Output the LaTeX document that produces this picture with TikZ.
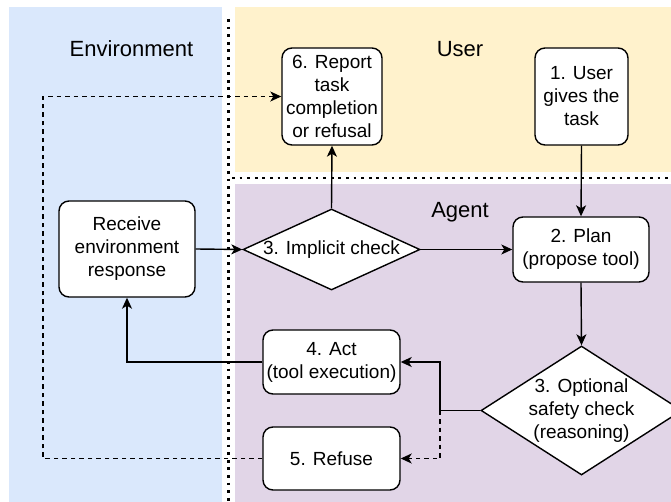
\documentclass[tikz,border=0pt]{standalone}
\usepackage{fontspec}
\setmainfont{Liberation Sans}
\usetikzlibrary{arrows.meta,shapes.geometric}
\definecolor{envblue}{HTML}{DAE8FC}
\definecolor{useryellow}{HTML}{FFF2CC}
\definecolor{agentpurple}{HTML}{E1D5E7}
\tikzset{
  box/.style={draw=black, line width=1.4pt, fill=white, rounded corners=10pt, align=center,
    inner sep=0pt, font=\fontsize{19}{23}\selectfont},
  dia/.style={draw=black, line width=1.4pt, fill=white, diamond, inner sep=0pt},
  diatext/.style={align=center, inner sep=0pt, font=\fontsize{19}{23}\selectfont},
  conn/.style={line width=1.4pt, -{Stealth[length=11pt,width=10pt,inset=3pt]}},
  dconn/.style={conn, dash pattern=on 4.5pt off 4pt},
  sep/.style={line width=2.8pt, dash pattern=on 2.8pt off 4.8pt},
  lane/.style={font=\fontsize{22}{26}\selectfont, anchor=base, inner sep=0pt},
}
\begin{document}
\begin{tikzpicture}[x=1pt,y=-1pt]
\useasboundingbox (0,0) rectangle (671,502);
% panels
\fill[envblue] (9,7) rectangle (222,502);
\fill[useryellow] (235,7) rectangle (671,172);
\fill[agentpurple] (235,184) rectangle (671,502);
% separators
\draw[sep] (228.5,19) -- (228.5,502);
\draw[sep] (232,178) -- (671,178);
% lane labels
\node[lane] (envlabel) at (131.5,57) {Environment};
\node[lane] (userlabel) at (460,57) {User};
\node[lane] (agentlabel) at (460,217.5) {Agent};
% nodes
\node[box, minimum width=100pt, minimum height=97pt] (n6) at (332,96.5) {6. Report\\task\\completion\\or refusal};
\node[box, minimum width=93pt, minimum height=97pt] (n1) at (581.5,96.5) {1. User\\gives the\\task};
\node[box, minimum width=136pt, minimum height=65pt] (plan) at (581,249.5) {2. Plan\\(propose tool)};
\node[box, minimum width=136pt, minimum height=96pt] (recv) at (127,249) {Receive\\environment\\response};
\node[box, minimum width=137pt, minimum height=64pt] (act) at (331.5,362) {4. Act\\(tool execution)};
\node[box, minimum width=137pt, minimum height=63pt] (refuse) at (331.5,458.5) {5. Refuse};
\node[dia, minimum width=177pt, minimum height=81pt] (imp) at (331.5,249.5) {};
\node[diatext] (imptext) at (imp.center) {3. Implicit check};
\node[dia, minimum width=201pt, minimum height=129pt] (safe) at (581.5,410.5) {};
\node[diatext] (safetext) at (safe.center) {3. Optional\\safety check\\(reasoning)};
% helper coordinates
\coordinate (j) at (440,410.5);
\coordinate (c1) at (43,458.5);
\coordinate (c2) at (43,96.5);
% connectors
\draw[conn] (n1.south) -- (plan.north);
\draw[conn] (plan.south) -- (safe.north);
\draw[line width=1.4pt] (safe.west) -- (j);
\draw[conn] (j) |- (act.east);
\draw[dconn] (j) |- (refuse.east);
\draw[conn] (act.west) -| (recv.south);
\draw[conn] (recv.east) -- (imp.west);
\draw[conn] (imp.east) -- (plan.west);
\draw[conn] (imp.north) -- (n6.south);
\draw[dconn] (refuse.west) -- (c1) -- (c2) -- (n6.west);
\end{tikzpicture}
\end{document}
